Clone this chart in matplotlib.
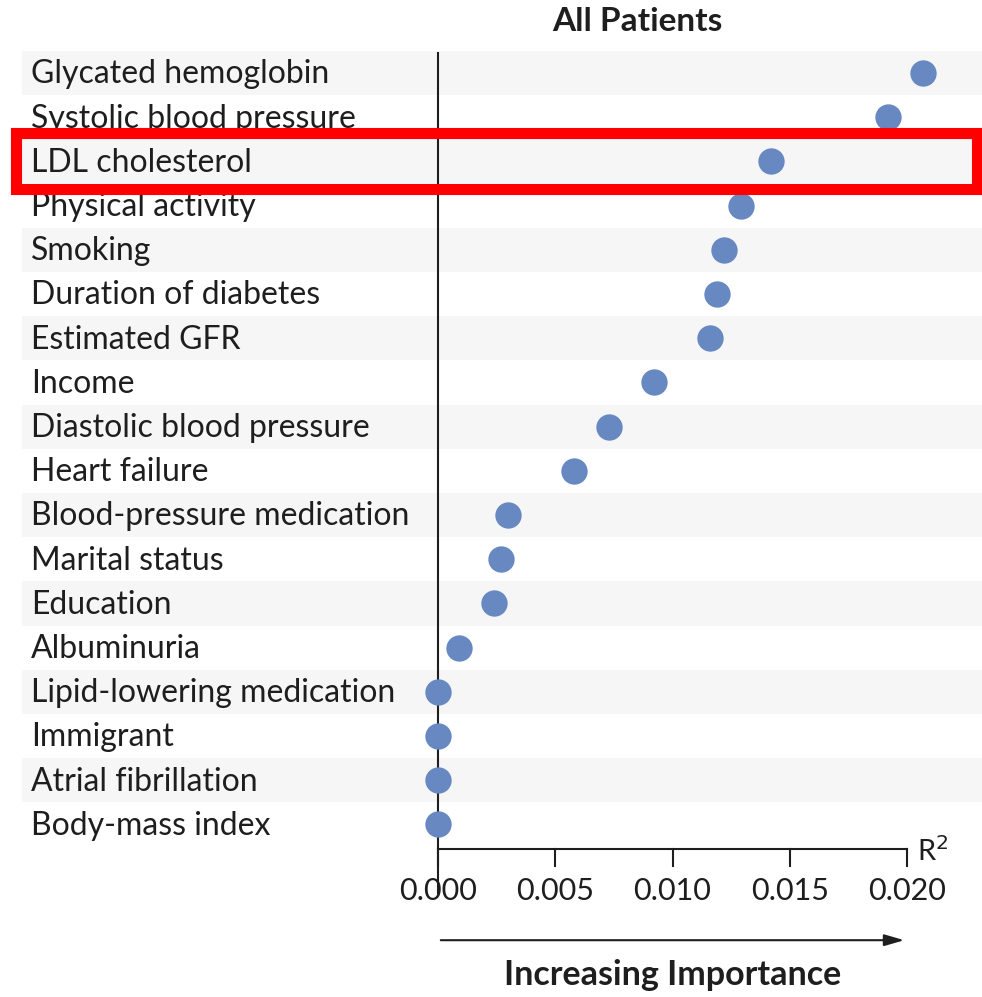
import matplotlib.pyplot as plt

plt.rcParams['font.family'] = ['Lato', 'DejaVu Sans']

labels = [
    "Glycated hemoglobin", "Systolic blood pressure", "LDL cholesterol",
    "Physical activity", "Smoking", "Duration of diabetes", "Estimated GFR",
    "Income", "Diastolic blood pressure", "Heart failure",
    "Blood-pressure medication", "Marital status", "Education", "Albuminuria",
    "Lipid-lowering medication", "Immigrant", "Atrial fibrillation",
    "Body-mass index",
]
r2 = [0.0207, 0.0192, 0.0142, 0.0129, 0.0122, 0.0119, 0.0116, 0.0092,
      0.0073, 0.0058, 0.0030, 0.0027, 0.0024, 0.0009, 0.0, 0.0, 0.0, 0.0]
ticks = [0.000, 0.005, 0.010, 0.015, 0.020]
highlight = "LDL cholesterol"

W, H = 982, 997
fig = plt.figure(figsize=(W / 100, H / 100), dpi=100)
ax = fig.add_axes([0, 0, 1, 1])
ax.axis("off")

# pixel mapping: x=0 -> 438 px, 0.020 -> 907 px; row i -> 73 + 44.2*i px
scale = (907 - 438) / 0.020
x0 = -438 / scale
ax.set_xlim(x0, (W - 438) / scale)
ax.set_ylim((H - 73) / 44.2, -73 / 44.2)
n = len(labels)

dark = "#1e1e1e"
for i, lab in enumerate(labels):
    if i % 2 == 0:
        ax.axhspan(i - 0.5, i + 0.5, xmin=22 / W, xmax=1, color="#f6f6f6", lw=0, zorder=0)
    ax.text(x0 + 31 / scale, i + 0.03, lab, ha="left", va="center", fontsize=23, color=dark)

ax.plot([0, 0], [-0.45, n + 0.55], color=dark, lw=1.5, zorder=1)
ax.plot([0, ticks[-1]], [n - 0.45, n - 0.45], color=dark, lw=1.5, zorder=1)
for t in ticks:
    ax.plot([t, t], [n - 0.45, n - 0.05], color=dark, lw=1.5)
    ax.text(t, n + 0.5, f"{t:.3f}", ha="center", va="center", fontsize=22, color=dark)
ax.text(ticks[-1] + 10 / scale, n - 0.4, "R$^2$", ha="left", va="center", fontsize=21, color=dark)

ax.scatter(r2, range(n), s=360, color="#6788c1", zorder=3, linewidths=0)

ax.annotate("", xy=(ticks[-1], n + 1.62), xytext=(0, n + 1.62),
            arrowprops=dict(arrowstyle="-|>,head_length=1.2,head_width=0.35",
                            color=dark, lw=1.5))
ax.text(ticks[-1] / 2, n + 2.4, "Increasing Importance", ha="center", va="center",
        fontsize=24.5, fontweight="bold", color=dark)
ax.text(0.0085, -1.16, "All Patients", ha="center", va="center",
        fontsize=24, fontweight="bold", color=dark)

# red box around the highlighted row
k = labels.index(highlight)
ax.add_patch(plt.Rectangle((x0 + 16 / scale, k - 0.64), (977 - 16) / scale, 1.27,
                           fill=False, ec="#ff0000", lw=8, zorder=4))

fig.savefig("out.png", dpi=100)
